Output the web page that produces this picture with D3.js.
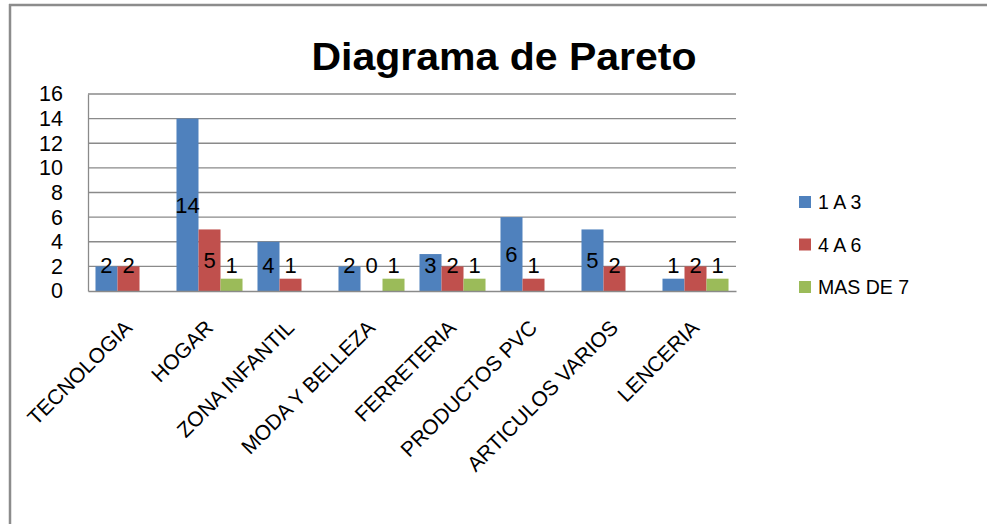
<!DOCTYPE html>
<html>
<head>
<meta charset="utf-8">
<script src="https://cdn.jsdelivr.net/npm/d3@7"></script>
<style>
  body { margin: 0; background: #fff; }
  text { font-family: "Liberation Sans", Arial, sans-serif; fill: #000; }
</style>
</head>
<body>
<div class="chart"></div>
<script>
var svgWidth = 987;
var svgHeight = 524;

// Data
var categories = ["TECNOLOGIA", "HOGAR", "ZONA INFANTIL", "MODA Y BELLEZA",
  "FERRETERIA", "PRODUCTOS PVC", "ARTICULOS VARIOS", "LENCERIA"];
var seriesNames = ["1 A 3", "4 A 6", "MAS DE 7"];
var serie1a3 = [2, 14, 4, 2, 3, 6, 5, 1];
var serie4a6 = [2, 5, 1, 0, 2, 1, 2, 2];
var serieMas7 = [null, 1, null, 1, 1, null, null, 1];
var yTicks = [0, 2, 4, 6, 8, 10, 12, 14, 16];
var colors = ["#4f81bd", "#c0504d", "#9bbb59"];

var seriesValues = [serie1a3, serie4a6, serieMas7];

var margin = { top: 94, left: 88, right: 251, bottom: 233 };
var width = svgWidth - margin.left - margin.right;
var height = svgHeight - margin.top - margin.bottom;

var svg = d3.select(".chart")
  .append("svg")
  .attr("width", svgWidth)
  .attr("height", svgHeight);

// outer frame (only top and left edges visible)
svg.append("line")
  .attr("x1", 9).attr("x2", svgWidth).attr("y1", 5).attr("y2", 5)
  .attr("stroke", "#8c8c8c").attr("stroke-width", 2.5);
svg.append("line")
  .attr("x1", 10).attr("x2", 10).attr("y1", 4).attr("y2", svgHeight)
  .attr("stroke", "#8c8c8c").attr("stroke-width", 2.5);

// title
svg.append("text")
  .attr("x", 504)
  .attr("y", 70)
  .attr("text-anchor", "middle")
  .attr("font-size", "38px")
  .attr("font-weight", "bold")
  .attr("textLength", 385)
  .attr("lengthAdjust", "spacingAndGlyphs")
  .text("Diagrama de Pareto");

var chartGroup = svg.append("g")
  .attr("transform", `translate(${margin.left}, ${margin.top})`);

// Scales
var x0 = d3.scaleBand()
  .domain(categories)
  .range([0, width]);

var x1 = d3.scaleBand()
  .domain(d3.range(seriesNames.length))
  .range([0, x0.bandwidth()])
  .paddingOuter(0.34);

var yScale = d3.scaleLinear()
  .domain([0, 16])
  .range([height, 0]);

// Gridlines
chartGroup.append("g")
  .selectAll("line")
  .data(yTicks.filter(d => d > 0))
  .enter()
  .append("line")
  .attr("x1", 0)
  .attr("x2", width)
  .attr("y1", d => yScale(d))
  .attr("y2", d => yScale(d))
  .attr("stroke", "#8a8a8a")
  .attr("stroke-width", 1.3);

// Y axis
var leftAxis = d3.axisLeft(yScale).tickValues(yTicks).tickSize(0).tickPadding(25);
var yAxis = chartGroup.append("g").call(leftAxis);
yAxis.select(".domain").attr("stroke", "#8a8a8a").attr("stroke-width", 1.3);
yAxis.selectAll("text")
  .attr("font-size", "21.5px")
  .attr("font-family", "Liberation Sans, Arial, sans-serif")
  .attr("fill", "#000");

// Bars
var groups = chartGroup.selectAll(".cat")
  .data(categories)
  .enter()
  .append("g")
  .attr("class", "cat")
  .attr("transform", d => `translate(${x0(d)}, 0)`);

var cells = groups.selectAll("g.cell")
  .data((c, ci) => seriesValues.map((s, si) => ({ si: si, v: s[ci] })))
  .enter()
  .append("g")
  .attr("class", "cell");

cells.filter(d => d.v !== null)
  .append("rect")
  .attr("x", d => x1(d.si))
  .attr("width", x1.bandwidth())
  .attr("y", d => yScale(d.v))
  .attr("height", d => height - yScale(d.v))
  .attr("fill", d => colors[d.si]);

// data labels
cells.filter(d => d.v !== null)
  .append("text")
  .attr("x", d => x1(d.si) + x1.bandwidth() / 2)
  .attr("y", d => Math.min(yScale(d.v / 2), height - 26))
  .attr("dy", "0.36em")
  .attr("text-anchor", "middle")
  .attr("font-size", "22px")
  .text(d => d.v);

// X axis line
var bottomAxis = d3.axisBottom(x0).tickSize(0).tickFormat("");
var xAxis = chartGroup.append("g")
  .attr("transform", `translate(0, ${height})`)
  .call(bottomAxis);
xAxis.select(".domain").attr("stroke", "#8a8a8a").attr("stroke-width", 1.3);

// rotated category labels
chartGroup.append("g")
  .selectAll("text")
  .data(categories)
  .enter()
  .append("text")
  .attr("text-anchor", "end")
  .attr("font-size", "21px")
  .attr("transform", d => `translate(${x0(d) + x0.bandwidth() / 2 + 5}, ${height + 38}) rotate(-45)`)
  .text(d => d);

// Legend
var legend = svg.append("g")
  .selectAll("g")
  .data(seriesNames)
  .enter()
  .append("g")
  .attr("transform", (d, i) => `translate(799, ${202 + i * 42.5})`);

legend.append("rect")
  .attr("x", 0)
  .attr("y", -6)
  .attr("width", 12)
  .attr("height", 12)
  .attr("fill", (d, i) => colors[i]);

legend.append("text")
  .attr("x", 19)
  .attr("dy", "0.36em")
  .attr("font-size", "19.5px")
  .text(d => d);
</script>
</body>
</html>
